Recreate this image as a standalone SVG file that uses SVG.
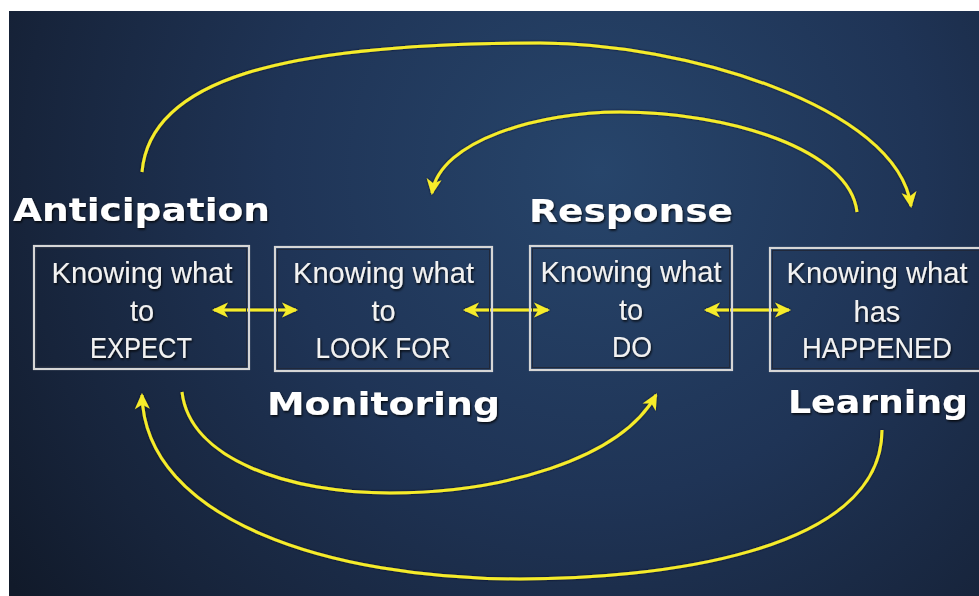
<svg xmlns="http://www.w3.org/2000/svg" width="979" height="596" viewBox="0 0 979 596">
  <defs>
    <radialGradient id="bg" cx="600" cy="170" r="720" gradientUnits="userSpaceOnUse">
      <stop offset="0" stop-color="#27456b"/>
      <stop offset="0.45" stop-color="#1f3456"/>
      <stop offset="0.8" stop-color="#17243b"/>
      <stop offset="1" stop-color="#111a2a"/>
    </radialGradient>
    <filter id="sh" x="-10%" y="-30%" width="120%" height="160%">
      <feDropShadow dx="1" dy="1.5" stdDeviation="1" flood-color="#000" flood-opacity="0.85"/>
    </filter>
    <filter id="lsh" x="-10%" y="-10%" width="120%" height="120%">
      <feDropShadow dx="0" dy="0" stdDeviation="0.8" flood-color="#000020" flood-opacity="0.9"/>
    </filter>
    <marker id="ah" markerUnits="userSpaceOnUse" markerWidth="18" markerHeight="18" viewBox="0 0 18 18" refX="15" refY="9" orient="auto-start-reverse">
      <path d="M17,9 L1,1.5 L5.5,9 L1,16.5 Z" fill="#f6ec2c"/>
    </marker>
  </defs>
  <style>
    .box { fill: none; stroke: #d6d6d6; stroke-width: 2.2; }
    .inner { fill: none; stroke: #20283a; stroke-width: 1; }
    .bt { font-family: "Liberation Sans", Arial, sans-serif; font-size: 29px; fill: #f2f2f2; text-anchor: middle; filter: url(#sh); }
    .lbl { font-family: "DejaVu Sans", "Liberation Sans", sans-serif; font-weight: bold; font-size: 32px; fill: #ffffff; filter: url(#sh); }
    .cn { fill: none; stroke: #f6ec2c; stroke-width: 3; }
  </style>

  <rect x="0" y="0" width="979" height="596" fill="#ffffff"/>
  <rect x="9" y="11" width="970" height="585" fill="url(#bg)"/>

  <g id="connectors" filter="url(#lsh)">
    <path class="cn" d="M142,172 C150,80 280,43 540,43 C680,43 897,105 911,206" marker-end="url(#ah)"/>
    <path class="cn" d="M857,212 C850,150 730,112 620,112 C540,112 440,140 432,193" marker-end="url(#ah)"/>
    <path class="cn" d="M182,392 C190,460 290,493 390,493 C500,493 620,460 656,395" marker-end="url(#ah)"/>
    <path class="cn" d="M882,430 C882,555 650,579 520,579 C330,579 145,520 142,395" marker-end="url(#ah)"/>
    <line class="cn" x1="214" y1="310" x2="296" y2="310" marker-start="url(#ah)" marker-end="url(#ah)"/>
    <line class="cn" x1="465" y1="310" x2="548" y2="310" marker-start="url(#ah)" marker-end="url(#ah)"/>
    <line class="cn" x1="706" y1="310" x2="789" y2="310" marker-start="url(#ah)" marker-end="url(#ah)"/>
  </g>

  <g id="anticipation">
    <rect class="box" x="34" y="246" width="215" height="123"/>
    <rect class="inner" x="36.5" y="248.5" width="210" height="118"/>
    <text class="bt" x="142" y="283" textLength="181" lengthAdjust="spacingAndGlyphs">Knowing what</text>
    <text class="bt" x="142" y="321">to</text>
    <text class="bt" x="141" y="358" textLength="102" lengthAdjust="spacingAndGlyphs">EXPECT</text>
    <text class="lbl" x="13" y="221" textLength="257" lengthAdjust="spacingAndGlyphs">Anticipation</text>
  </g>

  <g id="monitoring">
    <rect class="box" x="275" y="247" width="217" height="124"/>
    <rect class="inner" x="277.5" y="249.5" width="212" height="119"/>
    <text class="bt" x="383.5" y="283" textLength="181" lengthAdjust="spacingAndGlyphs">Knowing what</text>
    <text class="bt" x="383.5" y="321">to</text>
    <text class="bt" x="383" y="358" textLength="135" lengthAdjust="spacingAndGlyphs">LOOK FOR</text>
    <text class="lbl" x="267" y="415" textLength="233" lengthAdjust="spacingAndGlyphs">Monitoring</text>
  </g>

  <g id="response">
    <rect class="box" x="530" y="246" width="202" height="124"/>
    <rect class="inner" x="532.5" y="248.5" width="197" height="119"/>
    <text class="bt" x="631" y="282" textLength="181" lengthAdjust="spacingAndGlyphs">Knowing what</text>
    <text class="bt" x="631" y="320">to</text>
    <text class="bt" x="632" y="357" textLength="40" lengthAdjust="spacingAndGlyphs">DO</text>
    <text class="lbl" x="529" y="222" textLength="204" lengthAdjust="spacingAndGlyphs">Response</text>
  </g>

  <g id="learning">
    <rect class="box" x="770" y="248" width="215" height="123"/>
    <rect class="inner" x="772.5" y="250.5" width="210" height="118"/>
    <text class="bt" x="877" y="283" textLength="181" lengthAdjust="spacingAndGlyphs">Knowing what</text>
    <text class="bt" x="877" y="322">has</text>
    <text class="bt" x="877" y="358" textLength="150" lengthAdjust="spacingAndGlyphs">HAPPENED</text>
    <text class="lbl" x="788" y="413" textLength="180" lengthAdjust="spacingAndGlyphs">Learning</text>
  </g>
</svg>
